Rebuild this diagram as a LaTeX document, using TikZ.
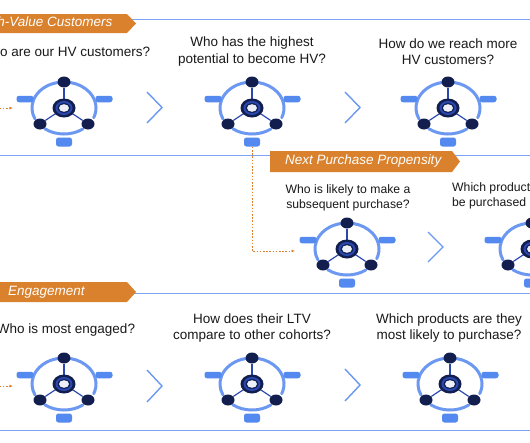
\documentclass[tikz,border=0pt]{standalone}
\usepackage{fontspec}
\setmainfont{Liberation Sans}
\usepackage{tikz}
\usetikzlibrary{arrows.meta,shapes,positioning,calc}
\definecolor{hvorange}{RGB}{217,129,45}
\definecolor{hvline}{RGB}{125,163,245}
\definecolor{hvarc}{RGB}{108,152,242}
\definecolor{hvpill}{RGB}{84,138,240}
\definecolor{hvnavy}{RGB}{18,30,78}
\definecolor{hvhub}{RGB}{42,72,175}
\definecolor{hvtext}{RGB}{25,25,25}

\tikzset{
  cyclepic/.pic={
    % outer ring
    \draw[ring] (102:32pt and 26pt) arc[start angle=102, end angle=205, x radius=32pt, y radius=26pt];
    \draw[ring] (233:32pt and 26pt) arc[start angle=233, end angle=306, x radius=32pt, y radius=26pt];
    \draw[ring] (-22:32pt and 26pt) arc[start angle=-22, end angle=78, x radius=32pt, y radius=26pt];
    % stages
    \coordinate (-hub) at (0pt,0pt);
    \node[stage] (-top) at (0pt,26pt) {};
    \node[stage] (-bl) at (-24pt,-16pt) {};
    \node[stage] (-br) at (24pt,-16pt) {};
    \draw[spoke] (-hub) -- (-top);
    \draw[spoke] (-hub) -- (-bl);
    \draw[spoke] (-hub) -- (-br);
    % hub
    \fill[hvnavy] (0pt,0pt) ellipse[x radius=11.5pt, y radius=9.5pt];
    \draw[hvhub, line width=2pt] (0pt,0pt) ellipse[x radius=7.5pt, y radius=6pt];
    \fill[white!92!hvhub] (0pt,0pt) ellipse[x radius=5pt, y radius=3.8pt];
    % channels
    \node[pill] (-left) at (-39pt,9pt) {};
    \node[pill] (-right) at (40pt,9pt) {};
    \node[pill, minimum height=9pt, minimum width=16pt] (-bottom) at (0pt,-34pt) {};
  }
}

\begin{document}
\begin{tikzpicture}[x=1pt, y=-1pt,
    ring/.style={line width=3pt, hvarc, line cap=round},
    stage/.style={ellipse, fill=hvnavy, minimum width=13pt, minimum height=11pt, inner sep=0pt},
    spoke/.style={hvhub, line width=1.2pt},
    pill/.style={rectangle, rounded corners=2.5pt, fill=hvpill, minimum width=17pt, minimum height=6.5pt, inner sep=0pt},
    rule/.style={hvline, line width=1pt},
    chev/.style={hvarc, line width=1.4pt},
    bannerfill/.style={fill=hvorange},
    bannertext/.style={text=white, font=\fontsize{13.5}{16}\selectfont\itshape, inner sep=0pt, anchor=west},
    question/.style={text=hvtext, align=center, inner sep=0pt, font=\fontsize{13.5}{16.5}\selectfont},
    smallq/.style={text=hvtext, align=center, inner sep=0pt, font=\fontsize{12.2}{14.6}\selectfont},
    feed/.style={hvorange, line width=0.8pt, dash pattern=on 1.6pt off 1.6pt, -{Latex[length=3.5pt, width=3pt]}}]
    \useasboundingbox (0,0) rectangle (530,442);
    \clip (0,0) rectangle (530,442);
    \fill[white] (0,0) rectangle (530,442);

    % Section rules
    \draw[rule] (0,19) -- (530,19);
    \draw[rule] (0,155) -- (530,155);
    \draw[rule] (0,293) -- (530,293);
    \draw[rule] (0,430) -- (530,430);

    % Row 1: High-Value Customers
    \fill[bannerfill] (-10,14) -- (127,14) -- (136,23.5) -- (127,33) -- (-10,33) -- cycle;
    \node[bannertext] (hvtitle) at (-23,23.5) {High-Value Customers};

    \node[question] (q11) at (65,52) {Who are our HV customers?};
    \node[question] (q12) at (252,51.5) {Who has the highest\\potential to become HV?};
    \node[question] (q13) at (448,51.5) {How do we reach more\\HV customers?};

    \pic (d11) at (64,108) {cyclepic};
    \pic (d12) at (252,108) {cyclepic};
    \pic (d13) at (448,108) {cyclepic};

    \draw[chev] (147,92) -- (162,107.5) -- (147,123);
    \draw[chev] (345,92) -- (360,107.5) -- (345,123);

    \coordinate (in1) at (-10,108);
    \draw[feed] (in1) -- ([xshift=-51pt]d11-hub);

    % Row 2: Next Purchase Propensity
    \fill[bannerfill] (270,151) -- (452,151) -- (460,161.5) -- (452,172) -- (270,172) -- cycle;
    \node[bannertext] (nptitle) at (285,161.5) {Next Purchase Propensity};

    \node[smallq] (q21) at (348,198) {Who is likely to make a\\subsequent purchase?};
    \node[smallq, align=left, anchor=west] (q22) at (452,196) {Which products are likely to\\be purchased next?};

    \pic (d21) at (347,249) {cyclepic};
    \pic (d22) at (532,249) {cyclepic};

    \draw[chev] (428,232) -- (443,247) -- (428,262);

    \draw[feed] (d12-bottom.south) |- ([xshift=-52pt,yshift=-2pt]d21-hub);

    % Row 3: Engagement
    \fill[bannerfill] (-10,282) -- (127,282) -- (136,292) -- (127,302) -- (-10,302) -- cycle;
    \node[bannertext] (engtitle) at (8,292) {Engagement};

    \node[question] (q31) at (66,330) {Who is most engaged?};
    \node[question] (q32) at (252,328) {How does their LTV\\compare to other cohorts?};
    \node[question] (q33) at (449,328) {Which products are they\\most likely to purchase?};

    \pic (d31) at (64,384) {cyclepic};
    \pic (d32) at (252,384) {cyclepic};
    \pic (d33) at (450,384) {cyclepic};

    \draw[chev] (147,370) -- (162,386) -- (147,402);
    \draw[chev] (345,369) -- (360,385) -- (345,401);

    \coordinate (in3) at (-10,386);
    \draw[feed] (in3) -- ([xshift=-51pt,yshift=-2pt]d31-hub);
\end{tikzpicture}
\end{document}
